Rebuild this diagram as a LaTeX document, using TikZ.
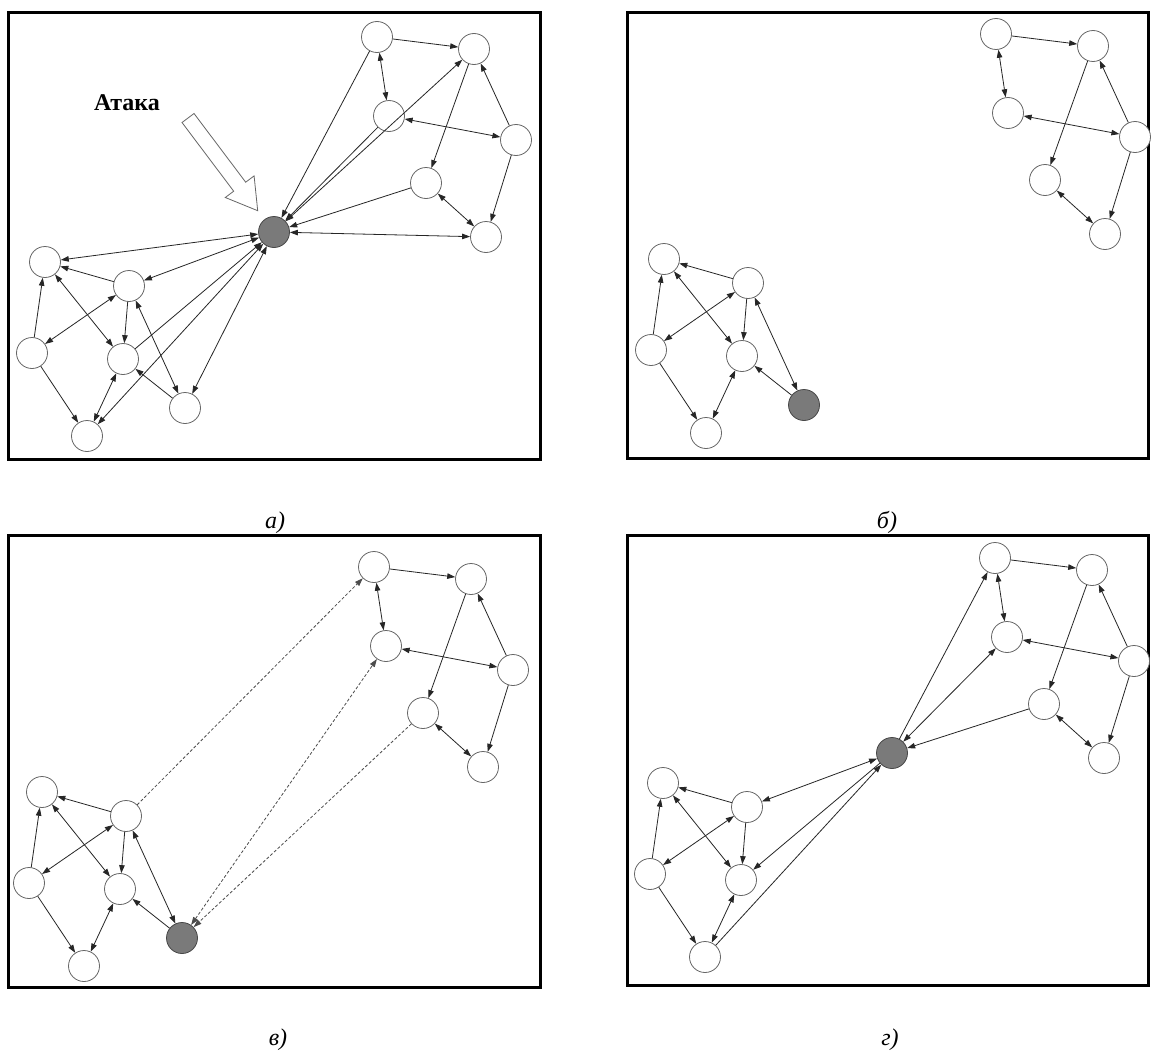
\documentclass[tikz,border=0pt]{standalone}
\usepackage{fontspec}
\setmainfont{Liberation Serif}
\usetikzlibrary{arrows.meta}

\tikzset{
  nd/.style={circle, draw=black!60, line width=0.8pt, fill=white,
             minimum size=31pt, inner sep=0pt},
  atk/.style={nd, fill=black!52, draw=black!72},
  lnk/.style={line width=0.8pt, draw=black!85},
  hd/.tip={Triangle[length=8pt,width=5.5pt]},
  arr/.style={lnk, -hd},
  biarr/.style={lnk, hd-hd},
  dsh/.style={lnk, draw=black!70, dash pattern=on 3pt off 2pt},
  frm/.style={line width=3pt, draw=black},
  lbl/.style={font=\fontsize{24}{24}\selectfont\itshape, anchor=base},
}

% upper-right group of hosts
\newcommand{\rightnet}[1]{%
  \node[nd] (#1n1) at (377,37)  {};
  \node[nd] (#1n2) at (474,49)  {};
  \node[nd] (#1n3) at (389,116) {};
  \node[nd] (#1n4) at (516,140) {};
  \node[nd] (#1n5) at (426,183) {};
  \node[nd] (#1n6) at (486,237) {};
  \draw[arr]   (#1n1) -- (#1n2);
  \draw[biarr] (#1n1) -- (#1n3);
  \draw[arr]   (#1n4) -- (#1n2);
  \draw[biarr] (#1n3) -- (#1n4);
  \draw[arr]   (#1n2) -- (#1n5);
  \draw[arr]   (#1n4) -- (#1n6);
  \draw[biarr] (#1n5) -- (#1n6);
}

% lower-left group of hosts
\newcommand{\leftnet}[1]{%
  \node[nd] (#1L1) at (45,262)  {};
  \node[nd] (#1L2) at (129,286) {};
  \node[nd] (#1L3) at (32,353)  {};
  \node[nd] (#1L4) at (123,359) {};
  \node[nd] (#1L6) at (87,436)  {};
  \draw[arr]   (#1L2) -- (#1L1);
  \draw[arr]   (#1L3) -- (#1L1);
  \draw[biarr] (#1L1) -- (#1L4);
  \draw[biarr] (#1L2) -- (#1L3);
  \draw[arr]   (#1L2) -- (#1L4);
  \draw[arr]   (#1L3) -- (#1L6);
  \draw[biarr] (#1L4) -- (#1L6);
}

\begin{document}
\begin{tikzpicture}[x=1pt,y=-1pt]
\useasboundingbox (0,0) rectangle (1155,1057);
\fill[white] (0,0) rectangle (1155,1057);

% panel frames
\draw[frm] (8,13)   rectangle (540,459);
\draw[frm] (627,13) rectangle (1148,458);
\draw[frm] (8,535)  rectangle (540,987);
\draw[frm] (627,535) rectangle (1148,985);

% panel a: the attacked host joins both groups
\begin{scope}
  \rightnet{a}
  \leftnet{a}
  \node[nd]  (aL5) at (185,408) {};
  \node[atk] (aG)  at (274,232) {};
  \draw[biarr] (aL2) -- (aL5);
  \draw[arr]   (aL5) -- (aL4);
  \draw[arr]   (an1) -- (aG);
  \draw[arr]   (an3) -- (aG);
  \draw[biarr] (aG) -- (an2);
  \draw[arr]   (an5) -- (aG);
  \draw[biarr] (aG) -- (an6);
  \draw[biarr] (aG) -- (aL1);
  \draw[biarr] (aG) -- (aL2);
  \draw[arr]   (aL4) -- (aG);
  \draw[biarr] (aG) -- (aL6);
  \draw[biarr] (aG) -- (aL5);
\end{scope}

% attack pointer
\draw[line width=0.8pt, draw=black!60, fill=white]
  (194.0,113.5) -- (245.7,182.2) -- (254.1,175.9) -- (257.7,210.7)
  -- (225.3,197.5) -- (233.7,191.2) -- (182.0,122.5) -- cycle;
\node[font=\fontsize{24}{24}\selectfont\bfseries] (attack) at (127,103) {Атака};

% panel b: the host is cut off
\begin{scope}[shift={(619,-3)}]
  \rightnet{b}
  \leftnet{b}
  \node[atk] (bG) at (185,408) {};
  \draw[biarr] (bL2) -- (bG);
  \draw[arr]   (bG) -- (bL4);
\end{scope}

% panel c: links being restored
\begin{scope}[shift={(-3,530)}]
  \rightnet{c}
  \leftnet{c}
  \node[atk] (cG) at (185,408) {};
  \draw[biarr] (cL2) -- (cG);
  \draw[arr]   (cG) -- (cL4);
  \draw[dsh, -hd]  (cL2) -- (cn1);
  \draw[dsh, hd-hd] (cG) -- (cn3);
  \draw[dsh, -hd]  (cn5) -- (cG);
\end{scope}

% panel d: restored connections
\begin{scope}[shift={(618,521)}]
  \rightnet{d}
  \leftnet{d}
  \node[atk] (dG) at (274,232) {};
  \draw[arr]   (dG) -- (dn1);
  \draw[biarr] (dG) -- (dn3);
  \draw[arr]   (dn5) -- (dG);
  \draw[biarr] (dG) -- (dL2);
  \draw[arr]   (dG) -- (dL4);
  \draw[arr]   (dL6) -- (dG);
\end{scope}

% captions
\node[lbl] (capa) at (275,528)  {а)};
\node[lbl] (capb) at (887,528)  {б)};
\node[lbl] (capc) at (278,1045) {в)};
\node[lbl] (capd) at (890,1045) {г)};
\end{tikzpicture}
\end{document}
